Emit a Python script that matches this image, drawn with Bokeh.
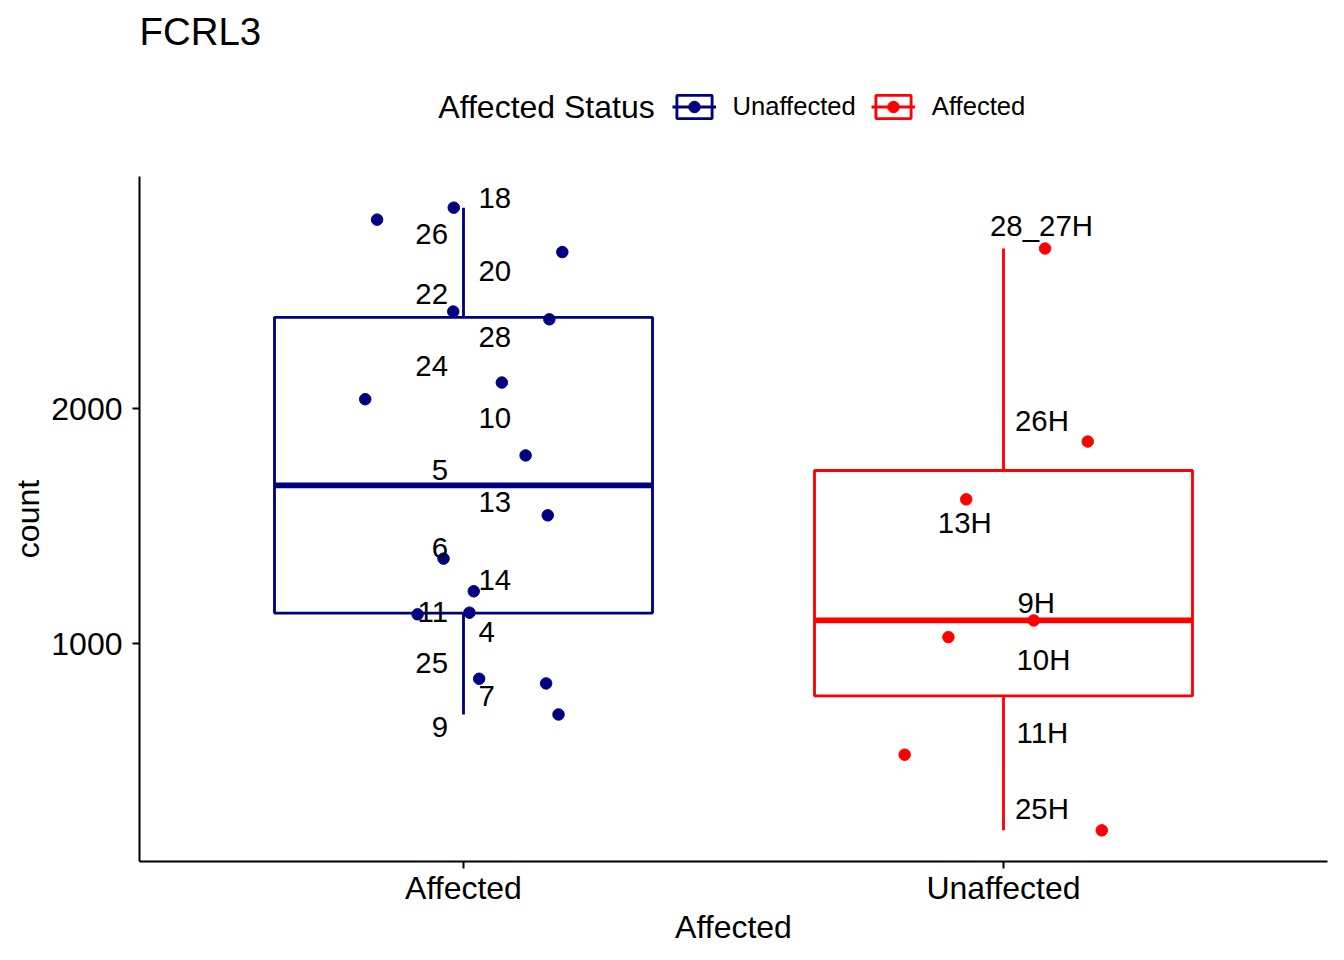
import numpy as np
from bokeh.plotting import figure
from bokeh.layouts import column
from bokeh.models import (ColumnDataSource, Range1d, FixedTicker, SingleIntervalTicker,
                          Legend, LegendItem, Label)
from bokeh.core.properties import value
from bokeh.embed import file_html
from bokeh.resources import INLINE

# ---------------- data ----------------
title_text = "FCRL3"
categories = ["Affected", "Unaffected"]
x_title = "Affected"
y_title = "count"
legend_title = "Affected Status"
legend_labels = ["Unaffected", "Affected"]
y_tick_interval = 1000

affected_ids = ["18", "26", "20", "22", "28", "24", "10", "5",
                "13", "6", "14", "11", "4", "25", "7", "9"]
affected_counts = [2855, 2804, 2666, 2413, 2380, 2111, 2040, 1801,
                   1546, 1362, 1223, 1132, 1125, 851, 831, 699]

unaffected_ids = ["28_27H", "26H", "13H", "9H", "10H", "11H", "25H"]
unaffected_counts = [2681, 1860, 1614, 1099, 1028, 528, 206]

# ---------------- layout (jitter and label placement) ----------------
affected_jitter = [-0.018, -0.160, 0.183, -0.019, 0.159, 0.071, -0.182, 0.115,
                   0.156, -0.037, 0.019, 0.011, -0.085, 0.029, 0.153, 0.176]
affected_label_align = ["left", "right"] * 8
affected_label_dx = [15, -15.5] * 8
affected_label_dy = [-10, 14.7, 19, -17.3, 17.3, -16.6, 18.3, 14.7,
                     -13.3, -10.3, -11, -1, 17.3, -16, 12.7, 13]

unaffected_jitter = [0.077, 0.156, -0.069, 0.056, -0.102, -0.183, 0.182]
unaffected_label_align = ["center", "left", "center", "left", "left", "left", "left"]
unaffected_label_dx = [38, 11.5, -38.7, 14, 13, 13, 11.5]
unaffected_label_dy = [-23.3, -20.6, 23.3, -17.7, 22.3, -22, -21.7]

NAVY = "#000080"
RED = "#FF0000"
FONT = "Liberation Sans"
LW = 2.85
BOX_W = 0.7
PT_SIZE = 11.5
LEFT = 139
FRAME_W = 1188
RIGHT = 9
DATA_H = 685
HEAD = 176

groups = [
    dict(ids=affected_ids, counts=affected_counts, jitter=affected_jitter,
         align=affected_label_align, dx=affected_label_dx, dy=affected_label_dy, color=NAVY),
    dict(ids=unaffected_ids, counts=unaffected_counts, jitter=unaffected_jitter,
         align=unaffected_label_align, dx=unaffected_label_dx, dy=unaffected_label_dy, color=RED),
]


def box_stats(vals):
    v = np.asarray(vals, dtype=float)
    q1, med, q3 = np.percentile(v, [25, 50, 75])
    iqr = q3 - q1
    lo = v[v >= q1 - 1.5 * iqr].min()
    hi = v[v <= q3 + 1.5 * iqr].max()
    return q1, med, q3, lo, hi


def draw_group(fig, cx, g, visible=True):
    q1, med, q3, lo, hi = box_stats(g["counts"])
    c = g["color"]
    r_wh = fig.segment(x0=[cx, cx], y0=[q3, q1], x1=[cx, cx], y1=[hi, lo],
                       line_color=c, line_width=LW, visible=visible)
    r_box = fig.quad(left=[cx - BOX_W / 2], right=[cx + BOX_W / 2], bottom=[q1], top=[q3],
                     fill_color="white", line_color=c, line_width=LW, visible=visible)
    fig.segment(x0=[cx - BOX_W / 2], x1=[cx + BOX_W / 2], y0=[med], y1=[med],
                line_color=c, line_width=2 * LW, visible=visible)
    xs = [cx + j for j in g["jitter"]]
    r_pt = fig.scatter(x=xs, y=g["counts"], size=PT_SIZE, fill_color=c, line_color=c,
                       visible=visible)
    return [r_box, r_wh, r_pt]


all_counts = np.array(affected_counts + unaffected_counts, dtype=float)
span = all_counts.max() - all_counts.min()
y_lo = all_counts.min() - 0.05 * span
y_hi = all_counts.max() + 0.05 * span
x_lo, x_hi = 0.4, len(categories) + 0.6

# ---------------- main panel ----------------
p = figure(
    frame_width=FRAME_W, frame_height=DATA_H,
    min_border_left=LEFT, min_border_right=RIGHT, min_border_top=0, min_border_bottom=85,
    x_range=Range1d(x_lo, x_hi), y_range=Range1d(y_lo, y_hi),
    output_backend="svg", toolbar_location=None, title_location=None,
    background_fill_color="white", border_fill_color="white",
)
p.outline_line_color = None
p.xgrid.visible = False
p.ygrid.visible = False

for i, g in enumerate(groups):
    cx = i + 1
    draw_group(p, cx, g)
    for al in ["left", "right", "center"]:
        idx = [k for k, a in enumerate(g["align"]) if a == al]
        if not idx:
            continue
        src = ColumnDataSource(dict(
            x=[cx] * len(idx),
            y=[g["counts"][k] for k in idx],
            t=[g["ids"][k] for k in idx],
            dx=[g["dx"][k] for k in idx],
            dy=[g["dy"][k] for k in idx],
        ))
        p.text(x="x", y="y", text="t", x_offset="dx", y_offset="dy", source=src,
               text_align=al, text_baseline="middle", text_font=value(FONT),
               text_font_size="29.4px", text_color="black")

p.xaxis.ticker = FixedTicker(ticks=list(range(1, len(categories) + 1)))
p.xaxis.major_label_overrides = {i + 1: c for i, c in enumerate(categories)}
p.yaxis.ticker = SingleIntervalTicker(interval=y_tick_interval, num_minor_ticks=0)
p.xaxis.axis_label = x_title
p.yaxis.axis_label = y_title
for ax in p.axis:
    ax.axis_line_color = "black"
    ax.axis_line_width = 2
    ax.major_tick_line_color = "black"
    ax.major_tick_line_width = 2
    ax.major_tick_out = 7
    ax.major_tick_in = 0
    ax.minor_tick_line_color = None
    ax.major_label_text_font = FONT
    ax.major_label_text_font_size = "32px"
    ax.major_label_text_color = "black"
    ax.axis_label_text_font = FONT
    ax.axis_label_text_font_size = "32px"
    ax.axis_label_text_font_style = "normal"
    ax.axis_label_text_color = "black"
p.xaxis.major_label_standoff = 1
p.yaxis.major_label_standoff = 10
p.xaxis.axis_label_standoff = 0
p.yaxis.axis_label_standoff = 2

# ---------------- header: title and legend ----------------
# the header frame is aligned with the main frame; its x units are page pixels
h = figure(
    frame_width=FRAME_W, frame_height=HEAD,
    min_border_left=LEFT, min_border_right=RIGHT, min_border_top=0, min_border_bottom=0,
    x_range=Range1d(LEFT, LEFT + FRAME_W), y_range=Range1d(0, HEAD),
    x_axis_location=None, y_axis_location=None,
    output_backend="svg", toolbar_location=None, title_location=None,
    background_fill_color="white", border_fill_color="white",
)
h.outline_line_color = None
h.xgrid.visible = False
h.ygrid.visible = False

# legend keys drawn from (hidden) copies of the box/line/point renderers;
# colours follow the reference: navy -> "Unaffected", red -> "Affected"
items = []
for i, (lab, g) in enumerate(zip(legend_labels, groups)):
    rs = draw_group(h, i + 1, g, visible=False)
    items.append(LegendItem(label=lab, renderers=rs, index=0))

LEG_H = 30
legend = Legend(
    items=items, orientation="horizontal",
    location=(671.5 - LEFT, 70 - LEG_H / 2),
    label_text_font=FONT, label_text_font_size="25.6px", label_text_color="black",
    label_standoff=17, spacing=15, glyph_width=44, glyph_height=29, label_height=LEG_H,
    padding=0, margin=0, border_line_color=None, background_fill_alpha=0,
)
h.add_layout(legend, "center")
h.add_layout(Label(x=437.8, y=70, text=legend_title,
                   text_font=FONT, text_font_size="32px", text_color="black",
                   text_align="left", text_baseline="middle"))
h.add_layout(Label(x=LEFT, y=145, text=title_text,
                   text_font=FONT, text_font_size="38.4px", text_color="black",
                   text_align="left", text_baseline="middle"))

layout = column(h, p, spacing=0)
open("out.html", "w").write(file_html(layout, INLINE))
